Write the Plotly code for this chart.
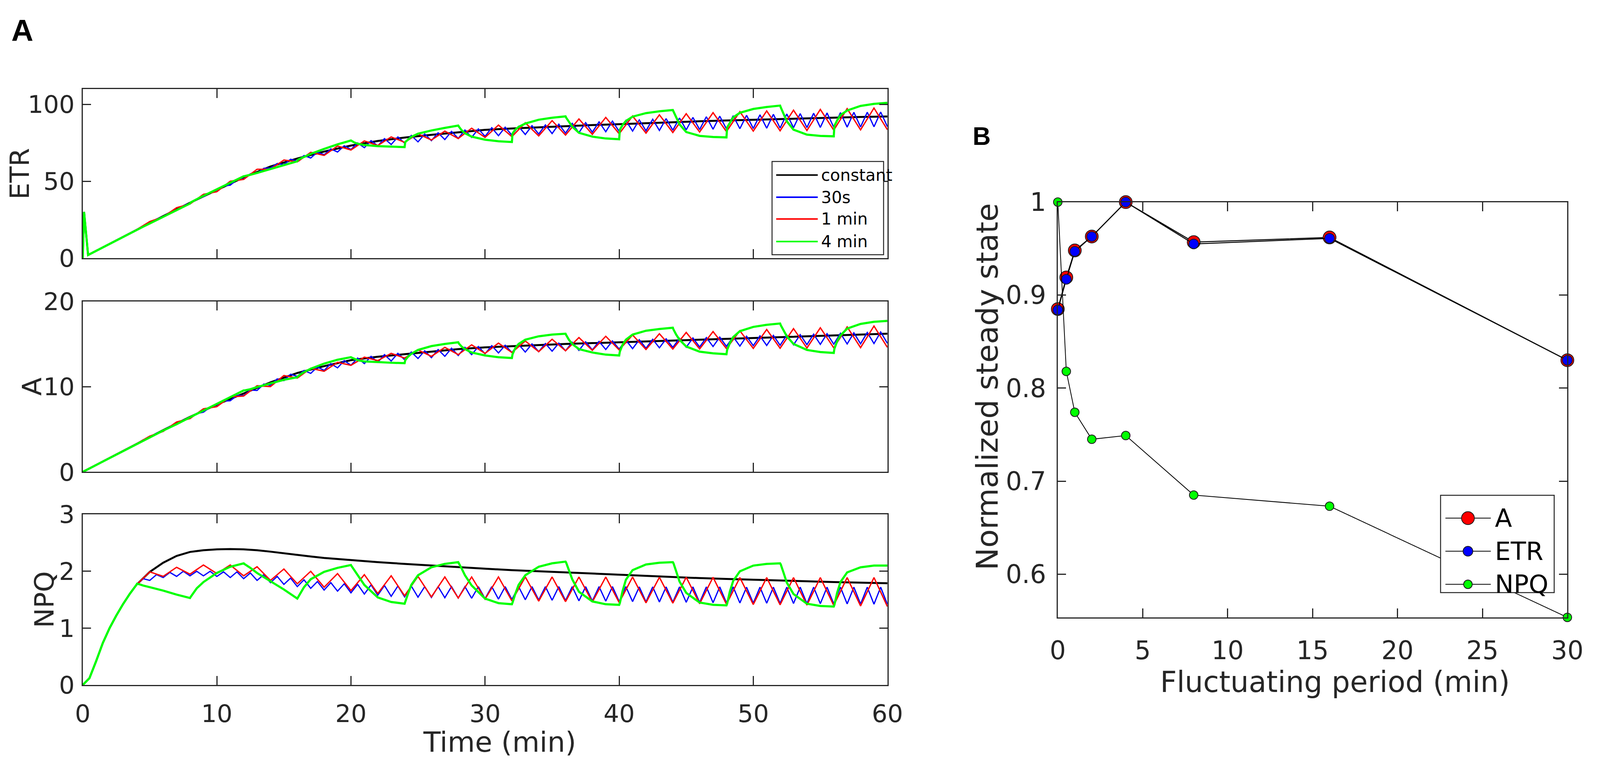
import numpy as np
import plotly.graph_objects as go

# the browser viewport turns out to be 4096 px wide (body margin 8 px), so the
# figure is laid out in reference pixels and squeezed horizontally to fit
REF_W = 4550
SX = 4096 / REF_W
W, H = 4080, 1966

# ---------------- panel A : time courses ----------------
time_ticks = [0, 10, 20, 30, 40, 50, 60]

# constant light (black)
etr_const_t = [0, 0.1, 0.4, 1, 2, 3, 4, 5, 6, 8, 10, 12, 14, 16, 18, 20, 22, 24, 26, 28, 30,
               32, 34, 36, 38, 40, 42, 44, 46, 48, 50, 52, 54, 56, 58, 60]
etr_const = [0, 30, 2, 4.7, 9.3, 13.9, 18.4, 22.9, 27.3, 36, 44.3, 52.5, 59.6, 64.8, 69.3, 73.2,
             76.2, 78.4, 80.2, 81.9, 83.4, 84.3, 85.1, 85.8, 86.5, 87.1, 87.8, 88.4, 89, 89.5,
             90, 90.5, 91, 91.4, 91.8, 92.1]

a_const_t = [0, 1, 2, 3, 4, 5, 6, 8, 10, 12, 14, 16, 18, 20, 22, 24, 26, 28, 30, 32, 34, 36,
             38, 40, 42, 44, 46, 48, 50, 52, 54, 56, 58, 60]
a_const = [0, 0.82, 1.64, 2.46, 3.28, 4.1, 4.9, 6.45, 7.9, 9.2, 10.5, 11.6, 12.4, 13.1, 13.5,
           13.8, 14.1, 14.4, 14.6, 14.75, 14.9, 15.0, 15.1, 15.2, 15.35, 15.45, 15.55, 15.65,
           15.75, 15.85, 15.95, 16.05, 16.1, 16.2]

npq_const_t = [0, 0.5, 1, 1.5, 2, 2.5, 3, 3.5, 4, 5, 6, 7, 8, 9, 10, 11, 12, 13, 14, 15, 16,
               17, 18, 20, 22, 24, 26, 28, 30, 32, 34, 36, 38, 40, 42, 44, 46, 48, 50, 52, 54,
               56, 58, 60]
npq_const = [0, 0.12, 0.42, 0.74, 1.0, 1.22, 1.42, 1.6, 1.76, 1.99, 2.15, 2.27, 2.34, 2.37,
             2.385, 2.39, 2.385, 2.37, 2.345, 2.315, 2.29, 2.26, 2.235, 2.195, 2.16, 2.13, 2.1,
             2.07, 2.045, 2.02, 2.0, 1.98, 1.955, 1.935, 1.915, 1.895, 1.88, 1.865, 1.85,
             1.835, 1.825, 1.81, 1.8, 1.79]

# number of points before the fluctuation starts (t <= 4 min), shared by all runs
etr_start = 7
a_start = 5
npq_start = 9

# 30 s fluctuation (blue): values at the end of each high (x.5 min) and low (x.0 min) phase
t_30s_high = np.arange(4.5, 60, 1.0)
t_30s_low = np.arange(5, 60.5, 1.0)
etr_30s_high = [20.9, 25.4, 29.8, 34.1, 38.4, 42.5, 46.9, 51.0, 54.8, 58.4,
                61.5, 64.3, 66.7, 68.9, 71.0, 73.1, 74.9, 76.4, 77.7, 78.8,
                79.8, 80.7, 81.5, 82.4, 83.3, 84.0, 84.8, 85.1, 85.6, 86.1,
                86.6, 87.1, 87.6, 88.1, 88.6, 89.1, 89.5, 89.9, 90.3, 90.7,
                91.1, 91.5, 91.9, 92.3, 92.6, 92.9, 93.2, 93.5, 93.7, 94.0,
                94.2, 94.4, 94.6, 94.8, 94.9, 95.0]
etr_30s_low = [22.6, 27.0, 31.4, 35.7, 39.9, 44.0, 47.4, 51.5, 55.1, 58.6,
               60.8, 63.0, 65.1, 67.2, 69.0, 70.6, 71.8, 73.0, 73.9, 74.8,
               75.6, 76.4, 77.1, 77.8, 78.5, 79.2, 79.6, 80.0, 80.4, 80.7,
               81.0, 81.3, 81.6, 81.9, 82.2, 82.4, 82.6, 82.8, 83.0, 83.2,
               83.4, 83.6, 83.8, 84.0, 84.2, 84.3, 84.5, 84.6, 84.8, 84.9,
               85.0, 85.1, 85.2, 85.3, 85.4, 85.5]
a_30s_high = [3.75, 4.55, 5.35, 6.1, 6.85, 7.6, 8.3, 8.95, 9.6, 10.3,
              10.9, 11.45, 11.9, 12.3, 12.7, 13.05, 13.35, 13.55, 13.75, 13.9,
              14.05, 14.2, 14.35, 14.5, 14.6, 14.7, 14.8, 14.85, 14.95, 15.0,
              15.05, 15.1, 15.2, 15.25, 15.3, 15.35, 15.45, 15.5, 15.55, 15.6,
              15.65, 15.7, 15.75, 15.8, 15.85, 15.9, 15.95, 16.0, 16.05, 16.1,
              16.15, 16.2, 16.25, 16.3, 16.35, 16.4]
a_30s_low = [4.0, 4.8, 5.55, 6.3, 7.0, 7.7, 8.35, 8.95, 9.55, 10.15,
             10.7, 11.2, 11.55, 11.9, 12.2, 12.5, 12.7, 12.85, 13.0, 13.15,
             13.3, 13.4, 13.55, 13.65, 13.75, 13.85, 13.95, 14.0, 14.05, 14.1,
             14.15, 14.2, 14.25, 14.3, 14.35, 14.4, 14.45, 14.5, 14.55, 14.6,
             14.62, 14.65, 14.7, 14.72, 14.75, 14.8, 14.82, 14.85, 14.9, 14.92,
             14.95, 14.98, 15.0, 15.02, 15.05, 15.08]
npq_30s_high = [1.87, 1.94, 1.98, 2.00, 2.00, 2.00, 1.99, 1.99, 1.97, 1.94,
                1.91, 1.88, 1.85, 1.82, 1.80, 1.78, 1.77, 1.76, 1.75, 1.74,
                1.74, 1.73, 1.73, 1.73, 1.73, 1.73, 1.73, 1.73, 1.73, 1.73,
                1.73, 1.73, 1.73, 1.73, 1.73, 1.73, 1.73, 1.725, 1.725, 1.725,
                1.725, 1.725, 1.725, 1.725, 1.725, 1.72, 1.72, 1.72, 1.72, 1.72,
                1.72, 1.72, 1.72, 1.72, 1.72, 1.72]
npq_30s_low = [1.84, 1.89, 1.91, 1.92, 1.92, 1.91, 1.89, 1.87, 1.84, 1.80,
               1.77, 1.73, 1.70, 1.67, 1.65, 1.62, 1.60, 1.58, 1.56, 1.55,
               1.545, 1.54, 1.535, 1.53, 1.525, 1.52, 1.51, 1.505, 1.50, 1.495,
               1.49, 1.485, 1.48, 1.478, 1.475, 1.47, 1.467, 1.463, 1.46, 1.457,
               1.454, 1.451, 1.448, 1.445, 1.443, 1.44, 1.438, 1.436, 1.434, 1.432,
               1.43, 1.428, 1.426, 1.424, 1.422, 1.42]

# 1 min fluctuation (red): end of high phase (odd minutes) and low phase (even minutes)
t_1min_high = np.arange(5, 60, 2.0)
t_1min_low = np.arange(6, 60.5, 2.0)
etr_1min_high = [23.8, 32.8, 41.5, 50.0, 57.8, 63.8, 68.8, 72.9, 76.2, 78.8,
                 80.8, 82.6, 84.5, 86.5, 88.0, 89.4, 90.5, 91.5, 92.4, 93.2,
                 93.9, 94.6, 95.2, 95.7, 96.2, 96.7, 97.2, 97.6]
etr_1min_low = [26.8, 35.2, 43.2, 51.2, 57.8, 62.6, 66.8, 70.3, 73.2, 75.3,
                76.8, 77.8, 78.5, 79.0, 79.5, 80.0, 80.5, 80.9, 81.3, 81.7,
                82.0, 82.3, 82.6, 82.8, 83.0, 83.2, 83.4, 83.5]
a_1min_high = [4.2, 5.85, 7.4, 8.8, 10.1, 11.3, 12.15, 12.85, 13.45, 13.9,
               14.3, 14.6, 14.9, 15.1, 15.35, 15.55, 15.75, 15.9, 16.05, 16.2,
               16.35, 16.45, 16.55, 16.7, 16.8, 16.9, 17.0, 17.1]
a_1min_low = [4.75, 6.25, 7.65, 8.9, 10.0, 11.0, 11.8, 12.5, 13.05, 13.35,
              13.55, 13.75, 13.9, 14.0, 14.1, 14.2, 14.25, 14.3, 14.35, 14.4,
              14.42, 14.45, 14.48, 14.5, 14.52, 14.55, 14.57, 14.6]
npq_1min_high = [1.99, 2.07, 2.11, 2.11, 2.08, 2.04, 2.00, 1.96, 1.94, 1.92,
                 1.91, 1.90, 1.90, 1.90, 1.90, 1.90, 1.90, 1.90, 1.90, 1.895,
                 1.895, 1.895, 1.89, 1.89, 1.89, 1.89, 1.89, 1.89]
npq_1min_low = [1.91, 1.95, 1.96, 1.92, 1.84, 1.78, 1.72, 1.66, 1.61, 1.57,
                1.55, 1.53, 1.51, 1.48, 1.475, 1.465, 1.46, 1.45, 1.445, 1.44,
                1.43, 1.42, 1.415, 1.41, 1.405, 1.40, 1.39, 1.38]

# 4 min fluctuation (green): each row is one 4-min phase (starts 4, 8, ... 56; low first),
# sampled at these offsets into the phase
phase_starts = list(range(4, 60, 4))
phase_offsets = [0.05, 0.25, 0.5, 1, 2, 3, 4]
etr_4min = [
    [18.6, 19.4, 20.4, 22.5, 26.8, 31.2, 35.5],
    [36.2, 37.0, 38.3, 40.5, 44.8, 49.2, 53.2],
    [53.3, 53.6, 54.2, 55.4, 58.0, 60.6, 63.0],
    [64.0, 64.8, 65.8, 67.8, 71.0, 74.0, 76.5],
    [76.2, 75.2, 74.4, 73.6, 72.8, 72.4, 72.2],
    [75.5, 77.0, 78.8, 80.9, 83.0, 84.7, 86.2],
    [85.5, 83.2, 81.2, 79.0, 77.0, 76.0, 75.5],
    [81.0, 83.5, 85.3, 87.5, 90.0, 91.3, 92.2],
    [91.3, 88.5, 85.5, 81.5, 79.0, 77.8, 77.3],
    [83.5, 86.5, 89.2, 92.0, 94.3, 95.5, 96.3],
    [95.3, 91.5, 87.0, 82.0, 79.5, 78.8, 78.5],
    [85.0, 88.0, 91.5, 94.5, 97.0, 98.3, 99.2],
    [98.0, 94.0, 89.0, 83.5, 80.3, 79.5, 79.2],
    [86.0, 89.5, 93.0, 96.0, 99.0, 100.3, 101.0],
]
a_4min = [
    [3.3, 3.45, 3.65, 4.05, 4.85, 5.6, 6.35],
    [6.4, 6.6, 6.8, 7.2, 8.0, 8.8, 9.55],
    [9.55, 9.6, 9.7, 9.95, 10.4, 10.8, 11.1],
    [11.2, 11.45, 11.7, 12.1, 12.7, 13.15, 13.45],
    [13.4, 13.25, 13.1, 12.95, 12.85, 12.8, 12.75],
    [13.1, 13.5, 13.85, 14.3, 14.75, 15.0, 15.2],
    [15.05, 14.7, 14.4, 14.0, 13.65, 13.45, 13.35],
    [13.8, 14.5, 15.0, 15.5, 15.9, 16.1, 16.2],
    [16.05, 15.5, 15.0, 14.4, 14.0, 13.75, 13.65],
    [14.1, 14.9, 15.5, 16.1, 16.55, 16.75, 16.9],
    [16.7, 16.1, 15.5, 14.7, 14.1, 13.9, 13.8],
    [14.3, 15.1, 15.8, 16.5, 17.0, 17.25, 17.4],
    [17.2, 16.6, 15.9, 15.0, 14.3, 14.05, 13.95],
    [14.45, 15.3, 16.0, 16.8, 17.35, 17.6, 17.7],
]
npq_4min = [
    [1.78, 1.77, 1.75, 1.72, 1.66, 1.59, 1.53],
    [1.55, 1.62, 1.70, 1.81, 1.97, 2.08, 2.14],
    [2.13, 2.10, 2.06, 1.97, 1.83, 1.68, 1.52],
    [1.54, 1.63, 1.72, 1.86, 1.99, 2.06, 2.11],
    [2.09, 2.02, 1.93, 1.76, 1.54, 1.46, 1.43],
    [1.46, 1.60, 1.76, 1.93, 2.07, 2.13, 2.16],
    [2.14, 2.05, 1.93, 1.75, 1.52, 1.44, 1.42],
    [1.45, 1.60, 1.76, 1.93, 2.08, 2.14, 2.17],
    [2.15, 2.02, 1.86, 1.64, 1.47, 1.42, 1.41],
    [1.44, 1.65, 1.85, 2.02, 2.12, 2.15, 2.16],
    [2.14, 2.00, 1.82, 1.62, 1.45, 1.41, 1.40],
    [1.43, 1.64, 1.83, 2.00, 2.10, 2.13, 2.14],
    [2.12, 1.98, 1.80, 1.60, 1.43, 1.39, 1.38],
    [1.41, 1.62, 1.81, 1.98, 2.07, 2.10, 2.10],
]

# ---------------- panel B : normalized steady state ----------------
period = [0, 0.5, 1, 2, 4, 8, 16, 30]
ss_A = [0.885, 0.919, 0.948, 0.963, 1.0, 0.957, 0.962, 0.830]
ss_ETR = [0.884, 0.917, 0.947, 0.963, 1.0, 0.955, 0.961, 0.830]
ss_NPQ = [1.0, 0.818, 0.774, 0.745, 0.749, 0.685, 0.673, 0.5535]

BLACK = '#000000'
BLUE = '#0000FF'
RED = '#FF0000'
GREEN = '#00FF00'
AXC = '#262626'
FONT = 'DejaVu Sans'


def join(t_start, v_start, *parts):
    # put the shared start and the fluctuation samples together in time order
    pts = list(zip(t_start, v_start))
    for ts, vs in parts:
        pts += list(zip(list(ts), list(vs)))
    pts.sort(key=lambda p: p[0])
    return [p[0] for p in pts], [p[1] for p in pts]


green_t = [s + o for s in phase_starts for o in phase_offsets]

fig = go.Figure()

panels = [
    ('', etr_const_t, etr_const, etr_start, etr_30s_high, etr_30s_low,
     etr_1min_high, etr_1min_low, etr_4min),
    ('2', a_const_t, a_const, a_start, a_30s_high, a_30s_low,
     a_1min_high, a_1min_low, a_4min),
    ('3', npq_const_t, npq_const, npq_start, npq_30s_high, npq_30s_low,
     npq_1min_high, npq_1min_low, npq_4min),
]

for ax, ct, cv, n0, bh, bl, rh, rl, gv in panels:
    t0, v0 = ct[:n0], cv[:n0]
    xa, ya = 'x' + ax, 'y' + ax
    fig.add_trace(go.Scatter(x=ct, y=cv, mode='lines', line=dict(color=BLACK, width=5),
                             xaxis=xa, yaxis=ya, showlegend=False))
    bx, by = join(t0, v0, (t_30s_high, bh), (t_30s_low, bl))
    fig.add_trace(go.Scatter(x=bx, y=by, mode='lines', line=dict(color=BLUE, width=3.2),
                             xaxis=xa, yaxis=ya, showlegend=False))
    rx, ry = join(t0, v0, (t_1min_high, rh), (t_1min_low, rl))
    fig.add_trace(go.Scatter(x=rx, y=ry, mode='lines', line=dict(color=RED, width=3.4),
                             xaxis=xa, yaxis=ya, showlegend=False))
    gx, gy = join(t0, v0, (green_t, [v for row in gv for v in row]))
    fig.add_trace(go.Scatter(x=gx, y=gy, mode='lines', line=dict(color=GREEN, width=5.5),
                             xaxis=xa, yaxis=ya, showlegend=False))

# panel B
fig.add_trace(go.Scatter(x=period, y=ss_A, mode='lines+markers', xaxis='x4', yaxis='y4',
                         line=dict(color=BLACK, width=2.5), cliponaxis=False, showlegend=False,
                         marker=dict(size=33, color=RED, line=dict(color='#1a1a1a', width=2))))
fig.add_trace(go.Scatter(x=period, y=ss_ETR, mode='lines+markers', xaxis='x4', yaxis='y4',
                         line=dict(color=BLACK, width=2.5), cliponaxis=False, showlegend=False,
                         marker=dict(size=25, color=BLUE, line=dict(color='#1a1a1a', width=2))))
fig.add_trace(go.Scatter(x=period, y=ss_NPQ, mode='lines+markers', xaxis='x4', yaxis='y4',
                         line=dict(color=BLACK, width=2), cliponaxis=False, showlegend=False,
                         marker=dict(size=22, color=GREEN, line=dict(color='#1a1a1a', width=2))))


# reference pixel -> paper fraction
def fx(x):
    return (x * SX - 8) / W


def fy(y):
    return 1 - (y - 8) / H


ax_common = dict(showline=True, linecolor=AXC, linewidth=3, mirror='ticks', ticks='inside',
                 tickwidth=2.5, tickcolor=AXC, showgrid=False, zeroline=False)
tick_a = dict(family=FONT, size=63, color=AXC)
tick_b = dict(family=FONT, size=65, color=AXC)

xdom = [fx(215), fx(2538)]
fig.update_layout(
    width=W, height=H, margin=dict(l=0, r=0, t=0, b=0),
    paper_bgcolor='white', plot_bgcolor='white',
    xaxis=dict(domain=xdom, anchor='y', range=[0, 60], tickvals=time_ticks,
               showticklabels=False, ticklen=23, **ax_common),
    yaxis=dict(domain=[fy(648), fy(198)], anchor='x', range=[0, 110], tickvals=[0, 50, 100],
               tickfont=tick_a, ticklabelstandoff=5, ticklen=21, **ax_common),
    xaxis2=dict(domain=xdom, anchor='y2', range=[0, 60], tickvals=time_ticks,
                showticklabels=False, ticklen=23, **ax_common),
    yaxis2=dict(domain=[fy(1217), fy(763)], anchor='x2', range=[0, 20], tickvals=[0, 10, 20],
                tickfont=tick_a, ticklabelstandoff=5, ticklen=21, **ax_common),
    xaxis3=dict(domain=xdom, anchor='y3', range=[0, 60], tickvals=time_ticks,
                tickfont=tick_a, ticklabelstandoff=16, ticklen=23, **ax_common),
    yaxis3=dict(domain=[fy(1784), fy(1330)], anchor='x3', range=[0, 3], tickvals=[0, 1, 2, 3],
                tickfont=tick_a, ticklabelstandoff=5, ticklen=21, **ax_common),
    xaxis4=dict(domain=[fx(3030), fx(4501)], anchor='y4', range=[0, 30],
                tickvals=[0, 5, 10, 15, 20, 25, 30], tickfont=tick_b, ticklabelstandoff=26,
                ticklen=23, **ax_common),
    yaxis4=dict(domain=[fy(1604), fy(499)], anchor='x4', range=[0.5535, 1],
                tickvals=[0.6, 0.7, 0.8, 0.9, 1], ticktext=['0.6', '0.7', '0.8', '0.9', '1'],
                tickfont=tick_b, ticklabelstandoff=14, ticklen=21, **ax_common),
)

ann = []


def label(text, x, y, size, angle=0, bold=False, anchor='center', family=FONT, color=AXC):
    ann.append(dict(text=text, x=fx(x), y=fy(y), xref='paper', yref='paper', showarrow=False,
                    xanchor=anchor, yanchor='middle', textangle=angle,
                    font=dict(family=family, size=size, color=color,
                              weight='bold' if bold else 'normal')))


label('A', 41, 42, 78, bold=True, family='Liberation Sans', color='black')
label('B', 2810, 324, 64, bold=True, family='Liberation Sans', color='black')
label('ETR', 33, 423, 68, angle=-90)
label('A', 69, 990, 68, angle=-90)
label('NPQ', 104, 1557, 68, angle=-90)
label('Time (min)', 1418, 1936, 72)
label('Normalized steady state', 2826, 990, 77, angle=-90)
label('Fluctuating period (min)', 3830, 1776, 74)

shapes = []
# legend of panel A (drawn by hand to get MATLAB-like long line samples)
shapes.append(dict(type='rect', xref='paper', yref='paper', x0=fx(2205), x1=fx(2527),
                   y0=fy(639), y1=fy(391), fillcolor='white', line=dict(color=AXC, width=2.5),
                   layer='above'))
for name, col, yy in [('constant', BLACK, 427), ('30s', BLUE, 486), ('1 min', RED, 544),
                      ('4 min', GREEN, 604)]:
    shapes.append(dict(type='line', xref='paper', yref='paper', x0=fx(2217), x1=fx(2337),
                       y0=fy(yy), y1=fy(yy), line=dict(color=col, width=4), layer='above'))
    label(name, 2344, yy, 42, anchor='left', color='black')

# legend of panel B
shapes.append(dict(type='rect', xref='paper', yref='paper', x0=fx(4135), x1=fx(4463),
                   y0=fy(1538), y1=fy(1279), fillcolor='white', line=dict(color=AXC, width=2.5),
                   layer='above'))
for name, col, yy, r in [('A', RED, 1340, 16.5), ('ETR', BLUE, 1428, 12.5), ('NPQ', GREEN, 1516, 11)]:
    shapes.append(dict(type='line', xref='paper', yref='paper', x0=fx(4149), x1=fx(4280),
                       y0=fy(yy), y1=fy(yy), line=dict(color=BLACK, width=2), layer='above'))
    shapes.append(dict(type='circle', xref='paper', yref='paper', xsizemode='pixel',
                       ysizemode='pixel', xanchor=fx(4214), yanchor=fy(yy), x0=-r, x1=r,
                       y0=-r, y1=r, fillcolor=col, line=dict(color='#1a1a1a', width=2),
                       layer='above'))
    label(name, 4290, yy, 64, anchor='left', color='black')

fig.update_layout(annotations=ann, shapes=shapes)

fig.write_html("out.html")
